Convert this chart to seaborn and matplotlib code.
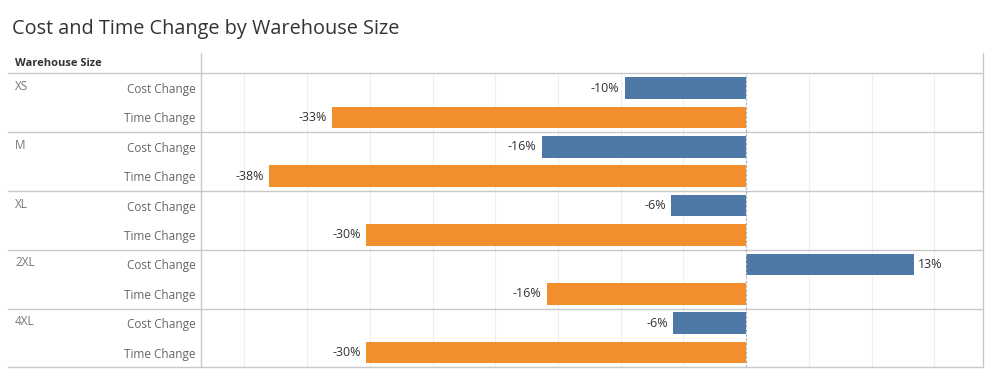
import pandas as pd
import matplotlib.pyplot as plt
import seaborn as sns
from matplotlib.lines import Line2D
from matplotlib import transforms

# Values (percent change)
sizes = ['XS', 'M', 'XL', '2XL', '4XL']
measures = ['Cost Change', 'Time Change']
cost_change = [-9.7, -16.3, -6.0, 13.4, -5.8]
time_change = [-33.0, -38.0, -30.3, -15.9, -30.3]

rows = []
for s, c, t in zip(sizes, cost_change, time_change):
    rows.append({'size': s, 'measure': 'Cost Change', 'value': c})
    rows.append({'size': s, 'measure': 'Time Change', 'value': t})
df = pd.DataFrame(rows)
df['row'] = df['size'] + ' | ' + df['measure']

sns.set_theme(style='white')
plt.rcParams['font.family'] = ['Open Sans', 'DejaVu Sans']

W, H = 991, 372
fig = plt.figure(figsize=(W / 100, H / 100), dpi=100)

def fx(px):
    return px / W

def fy(py):
    return 1 - py / H

ax = fig.add_axes([fx(201), fy(367.3), fx(983.3) - fx(201), fy(73.3) - fy(367.3)])

sns.barplot(data=df, x='value', y='row', hue='measure', dodge=False,
            palette={'Cost Change': '#4e79a7', 'Time Change': '#f28e2b'},
            saturation=1, width=0.74, legend=False, linewidth=0, edgecolor='none', ax=ax)

ax.set_xlim(-43.46, 18.9)
ax.set_ylim(len(df) - 0.5, -0.5)
ax.set_xticks(range(-40, 20, 5))
ax.set_xticklabels([])
ax.grid(axis='x', color='#eeeeee', lw=0.8)
ax.set_axisbelow(True)
ax.tick_params(length=0)
ax.set_xlabel('')
ax.set_ylabel('')
ax.set_yticks(range(len(df)))
ax.set_yticklabels(df['measure'], color='#666666', fontsize=8.5)
ax.tick_params(axis='y', pad=4)
for sp in ax.spines.values():
    sp.set_visible(False)
ax.axvline(0, color='#b0b0b0', lw=0.8, ls=(0, (2, 2)), zorder=5)

# value labels
for i, v in enumerate(df['value']):
    if v < 0:
        ax.annotate(f'{v:.0f}%', (v, i), xytext=(-5, 0), textcoords='offset pixels',
                    ha='right', va='center', fontsize=9, color='#333333')
    else:
        ax.annotate(f'{v:.0f}%', (v, i), xytext=(4, 0), textcoords='offset pixels',
                    ha='left', va='center', fontsize=9, color='#333333')

# row headers and separators
blend = transforms.blended_transform_factory(fig.transFigure, ax.transData)
for g, s in enumerate(sizes):
    ax.text(fx(15), 2 * g - 0.05, s, transform=blend, ha='left', va='center',
            fontsize=8.5, color='#777777', clip_on=False)
for k in range(len(sizes) + 1):
    ax.add_line(Line2D([fx(8), fx(983.3)], [2 * k - 0.5, 2 * k - 0.5], transform=blend,
                       color='#c8c8c8', lw=1, clip_on=False))

# frame lines of the table
fig.add_artist(Line2D([fx(201), fx(201)], [fy(53), fy(367.3)], color='#c8c8c8', lw=1))
fig.add_artist(Line2D([fx(983.3), fx(983.3)], [fy(53), fy(367.3)], color='#c8c8c8', lw=1))

fig.text(fx(15), fy(64), 'Warehouse Size', ha='left', va='center', fontsize=8,
         fontweight='bold', color='#333333')
fig.text(fx(12), fy(29), 'Cost and Time Change by Warehouse Size', ha='left', va='center',
         fontsize=14.3, color='#333333')

fig.savefig('out.png', dpi=100)
